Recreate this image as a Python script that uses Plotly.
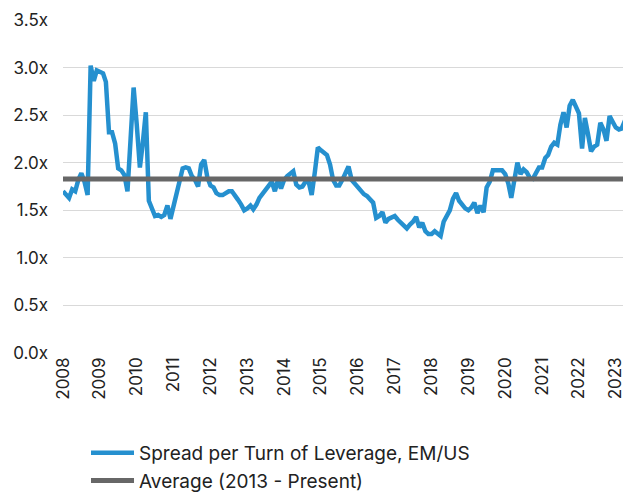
import pandas as pd
import plotly.graph_objects as go

# monthly spread per turn of leverage, EM/US (Jan 2008 -> Jun 2023)
spread = [
    1.70, 1.66, 1.63, 1.72, 1.70, 1.82, 1.89, 1.80, 1.66, 3.02, 2.86, 2.97,  # 2008
    2.96, 2.94, 2.85, 2.32, 2.32, 2.20, 1.94, 1.92, 1.87, 1.70, 2.25, 2.79,  # 2009
    2.40, 1.95, 2.20, 2.53, 1.60, 1.52, 1.44, 1.45, 1.43, 1.45, 1.55, 1.41,  # 2010
    1.55, 1.72, 1.84, 1.94, 1.95, 1.94, 1.86, 1.82, 1.75, 1.98, 2.03, 1.85,  # 2011
    1.76, 1.74, 1.68, 1.66, 1.66, 1.68, 1.70, 1.70, 1.66, 1.61, 1.56, 1.50,  # 2012
    1.52, 1.55, 1.51, 1.56, 1.63, 1.67, 1.72, 1.76, 1.80, 1.70, 1.82, 1.73,  # 2013
    1.82, 1.86, 1.88, 1.91, 1.77, 1.74, 1.75, 1.80, 1.80, 1.66, 1.90, 2.16,  # 2014
    2.13, 2.11, 2.08, 1.98, 1.82, 1.76, 1.76, 1.82, 1.88, 1.96, 1.82, 1.78,  # 2015
    1.75, 1.70, 1.67, 1.65, 1.62, 1.58, 1.42, 1.44, 1.48, 1.37, 1.41, 1.43,  # 2016
    1.44, 1.40, 1.37, 1.33, 1.31, 1.35, 1.38, 1.43, 1.32, 1.37, 1.28, 1.25,  # 2017
    1.25, 1.28, 1.26, 1.23, 1.38, 1.45, 1.50, 1.62, 1.68, 1.60, 1.55, 1.52,  # 2018
    1.50, 1.53, 1.58, 1.47, 1.55, 1.48, 1.74, 1.80, 1.92, 1.92, 1.93, 1.92,  # 2019
    1.88, 1.78, 1.63, 1.82, 2.00, 1.88, 1.93, 1.90, 1.84, 1.83, 1.90, 1.95,  # 2020
    1.95, 2.05, 2.08, 2.17, 2.21, 2.19, 2.40, 2.53, 2.37, 2.60, 2.66, 2.60,  # 2021
    2.52, 2.15, 2.47, 2.30, 2.12, 2.17, 2.19, 2.42, 2.35, 2.23, 2.49, 2.43,  # 2022
    2.37, 2.35, 2.36, 2.44, 2.46, 2.38,                                      # 2023
]
dates = pd.date_range("2008-01-01", periods=len(spread), freq="MS")

avg_value = 1.83
avg_dates = [dates[0], dates[-1]]

year_ticks = pd.date_range("2008-01-01", "2023-01-01", freq="YS")
year_labels = [str(d.year) for d in year_ticks]
y_ticks = [0, 0.5, 1.0, 1.5, 2.0, 2.5, 3.0, 3.5]
y_labels = [f"{v:.1f}x" for v in y_ticks]

font = "Inter"

fig = go.Figure()
fig.add_trace(go.Scatter(
    x=dates, y=spread, mode="lines",
    name="Spread per Turn of Leverage, EM/US",
    line=dict(color="#2590cf", width=4.5),
))
fig.add_trace(go.Scatter(
    x=avg_dates, y=[avg_value, avg_value], mode="lines",
    name="Average (2013 - Present)",
    line=dict(color="#676767", width=5),
))

# page body keeps an 8px margin, so the figure is 8px smaller than the window
fig.update_layout(
    width=623, height=484,
    margin=dict(l=55, r=0, t=12, b=139, autoexpand=False),
    paper_bgcolor="white", plot_bgcolor="white",
    font=dict(family=font, size=17, color="#222222"),
    showlegend=True,
    legend=dict(
        x=0.0405, y=0.12, xref="paper", yref="container",
        xanchor="left", yanchor="top",
        bgcolor="rgba(0,0,0,0)", font=dict(size=19),
        tracegroupgap=0, itemwidth=43,
    ),
    xaxis=dict(
        range=[dates[0], dates[-1]],
        tickvals=year_ticks, ticktext=year_labels,
        tickangle=-90, showgrid=False, showline=False,
        ticks="", zeroline=False, automargin=False,
        tickfont=dict(size=17),
    ),
    yaxis=dict(
        range=[0, 3.5], tickvals=y_ticks, ticktext=y_labels,
        showgrid=True, gridcolor="#d9d9d9", gridwidth=1,
        zeroline=False, showline=False, ticks="",
        ticklabelstandoff=14, automargin=False,
        tickfont=dict(size=17),
    ),
)

fig.write_html("out.html")
